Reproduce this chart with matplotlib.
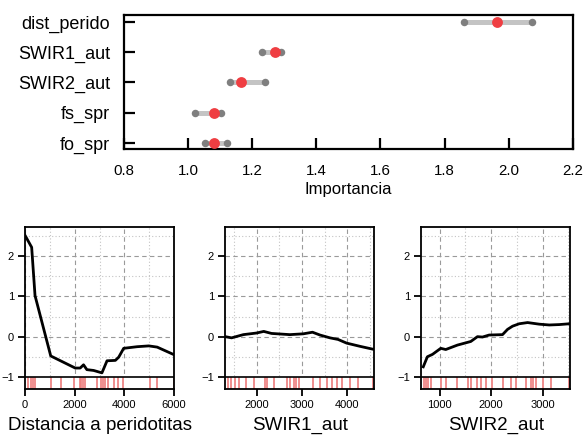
import matplotlib
matplotlib.use('Agg')
import matplotlib.pyplot as plt
from matplotlib.ticker import MultipleLocator

plt.rcParams['font.family'] = ['Liberation Sans', 'DejaVu Sans']

# variable importance (bottom to top)
features = ['fo_spr', 'fs_spr', 'SWIR2_aut', 'SWIR1_aut', 'dist_perido']
imp_lo = [1.052, 1.023, 1.131, 1.232, 1.861]
imp_hi = [1.120, 1.104, 1.241, 1.290, 2.074]
imp_mid = [1.080, 1.082, 1.165, 1.272, 1.964]

# partial dependence: distance to peridotites
dist_x = [0, 269, 404, 1036, 2020, 2220, 2355, 2490, 2760, 3095, 3300, 3635,
          3770, 3970, 4510, 4980, 5316, 6000]
dist_y = [2.52, 2.22, 1.02, -0.48, -0.78, -0.78, -0.70, -0.82, -0.84, -0.90,
          -0.60, -0.59, -0.51, -0.29, -0.25, -0.23, -0.26, -0.45]
dist_rug = [135, 229, 336, 404, 1036, 1440, 1952, 2194, 2261, 2328, 2423, 2894,
            3055, 3136, 3230, 3324, 3567, 3728, 3930, 5020, 5316, 6000]

# SWIR1_aut
swir1_x = [1310, 1450, 1710, 2000, 2160, 2330, 2735, 3030, 3235, 3400, 3620,
           3800, 3985, 4280, 4600]
swir1_y = [0.0, -0.03, 0.05, 0.09, 0.13, 0.08, 0.05, 0.07, 0.11, 0.04, -0.03,
           -0.07, -0.16, -0.24, -0.32]
swir1_rug = [1370, 1443, 1516, 1612, 1758, 1941, 2183, 2234, 2381, 2674, 2733,
             2821, 2879, 2945, 3245, 3407, 3553, 3670, 3773, 3883, 4066, 4249, 4579]

# SWIR2_aut
swir2_x = [680, 760, 860, 1020, 1117, 1344, 1604, 1734, 1831, 1961, 2221, 2318,
           2416, 2545, 2708, 2935, 3130, 3325, 3520]
swir2_y = [-0.75, -0.5, -0.44, -0.29, -0.32, -0.21, -0.12, 0.0, -0.01, 0.04,
           0.05, 0.18, 0.26, 0.32, 0.35, 0.31, 0.29, 0.30, 0.32]
swir2_rug = [695, 740, 773, 825, 1019, 1117, 1344, 1558, 1604, 1721, 1799, 1896,
             2026, 2234, 2383, 2481, 2675, 2773, 2818, 2870, 3000, 3162, 3506]

fig = plt.figure(figsize=(5.85, 4.42), dpi=100)

# --- importance dot plot ---
ax = fig.add_axes([0.212, 0.663, 0.767, 0.303])
ypos = list(range(1, len(features) + 1))
for i, y in enumerate(ypos):
    ax.plot([imp_lo[i], imp_hi[i]], [y, y], color='#c4c4c4', lw=3.6,
            solid_capstyle='butt', zorder=2)
    ax.plot([imp_lo[i], imp_hi[i]], [y, y], 'o', color='#7f7f7f', ms=5.4,
            mec='none', zorder=3)
    ax.plot(imp_mid[i], y, 'o', color='#ef3e42', ms=7.8, mec='none', zorder=4)
ax.set_xlim(0.8, 2.2)
ax.set_ylim(0.8, 5.23)
ax.set_yticks(ypos)
ax.set_yticklabels(features)
ax.set_xticks([0.8, 1.0, 1.2, 1.4, 1.6, 1.8, 2.0, 2.2])
ax.tick_params(axis='both', direction='in', length=8, width=1.6, color='black')
ax.tick_params(axis='y', labelsize=13, pad=10)
ax.tick_params(axis='x', labelsize=10.8, pad=11)
ax.set_xlabel('Importancia', fontsize=12, labelpad=3)
for s in ax.spines.values():
    s.set_linewidth(1.6)

# --- partial dependence panels ---
panels = [
    (dist_x, dist_y, dist_rug, (0, 6000), 2000, 1000, 'Distancia a peridotitas', 0.0427),
    (swir1_x, swir1_y, swir1_rug, (1310, 4600), 1000, 500, 'SWIR1_aut', 0.385),
    (swir2_x, swir2_y, swir2_rug, (640, 3540), 1000, 500, 'SWIR2_aut', 0.720),
]
for px, py, rug, xl, major, minor, label, left in panels:
    a = fig.add_axes([left, 0.120, 0.255, 0.366])
    a.set_xlim(*xl)
    a.set_ylim(-1.3, 2.72)
    a.xaxis.set_major_locator(MultipleLocator(major))
    a.xaxis.set_minor_locator(MultipleLocator(minor))
    a.set_yticks([-1, 0, 1, 2])
    a.yaxis.set_minor_locator(MultipleLocator(0.5))
    a.grid(which='major', ls=(0, (4, 3)), color='#9a9a9a', lw=0.8)
    a.grid(which='minor', ls=(0, (1, 2)), color='#c4c4c4', lw=0.8)
    a.set_axisbelow(True)
    a.axhspan(-1.3, -1, color='white', zorder=1.5)
    a.vlines(rug, -1.3, -1, colors='#ec7c7c', lw=1.2, zorder=2)
    a.axhline(-1, color='black', lw=1.2, zorder=3)
    a.plot(px, py, color='black', lw=2.0, zorder=4)
    a.tick_params(which='minor', length=0)
    a.tick_params(which='major', direction='out', length=5, width=1.3,
                  labelsize=8, pad=3)
    a.set_xlabel(label, fontsize=13.5, labelpad=5)
    for s in a.spines.values():
        s.set_linewidth(1.3)

fig.savefig('out.png', dpi=100)
